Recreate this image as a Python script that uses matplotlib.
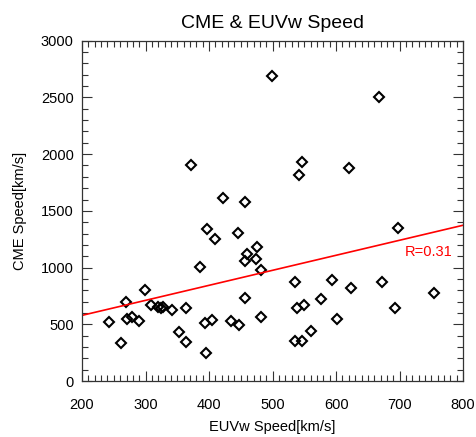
"""CME speed vs EUV wave speed scatter with linear fit
"""
import numpy as np
import matplotlib
matplotlib.use('Agg')
import matplotlib.pyplot as plt
from matplotlib.ticker import MultipleLocator

# values
euvw_speed = [242, 261, 269, 270, 279, 290, 299, 308, 320, 324, 327, 341,
              353, 364, 364, 372, 385, 394, 395, 397, 404, 410, 422, 434,
              445, 447, 456, 457, 457, 459, 474, 475, 481, 482, 499, 535,
              536, 539, 542, 546, 546, 549, 560, 576, 594, 601, 620, 624,
              667, 672, 693, 697, 754]
cme_speed = [517, 337, 696, 543, 561, 528, 801, 669, 655, 640, 655, 625,
             434, 640, 341, 1905, 1004, 508, 249, 1339, 537, 1251, 1612, 528,
             1304, 493, 731, 1577, 1060, 1119, 1075, 1183, 980, 561, 2689, 870,
             355, 640, 1812, 1932, 350, 672, 443, 725, 890, 543, 1882, 816,
             2504, 869, 640, 1350, 772]

# linear fit as drawn (intercept at x=200, slope)
fit_x = [200, 800]
fit_intercept = 579
fit_slope = 1.324
r_label = "R=0.31"

plt.rcParams['font.family'] = ['Liberation Sans', 'DejaVu Sans']

fig = plt.figure(figsize=(4.77, 4.37), dpi=100)
ax = fig.add_axes([0.172, 0.128, 0.799, 0.779])

ax.plot(euvw_speed, cme_speed, linestyle='none', marker='D', ms=5.2,
        mfc='none', mec='black', mew=1.5)

fx = np.array(fit_x, dtype=float)
ax.plot(fx, fit_intercept + fit_slope * (fx - fit_x[0]), color='red', lw=1.2)
ax.text(783, 1100, r_label, color='red', fontsize=10.5, ha='right', va='baseline')

ax.set_xlim(200, 800)
ax.set_ylim(0, 3000)
ax.xaxis.set_major_locator(MultipleLocator(100))
ax.xaxis.set_minor_locator(MultipleLocator(10))
ax.yaxis.set_major_locator(MultipleLocator(500))
ax.yaxis.set_minor_locator(MultipleLocator(100))
ax.tick_params(which='both', direction='in', top=True, right=True,
               labelsize=10.5, width=0.8, color='#333333')
ax.tick_params(axis='x', which='both', pad=12)
ax.tick_params(axis='y', which='both', pad=6)
ax.tick_params(which='major', length=7)
ax.tick_params(which='minor', length=4)
for sp in ax.spines.values():
    sp.set_linewidth(0.9)
    sp.set_color('#333333')

ax.set_title("CME & EUVw Speed", fontsize=14, pad=9)
ax.set_xlabel("EUVw Speed[km/s]", fontsize=10.5, labelpad=6)
ax.set_ylabel("CME Speed[km/s]", fontsize=10.5, labelpad=10)

fig.savefig('out.png', dpi=100)
plt.close()
